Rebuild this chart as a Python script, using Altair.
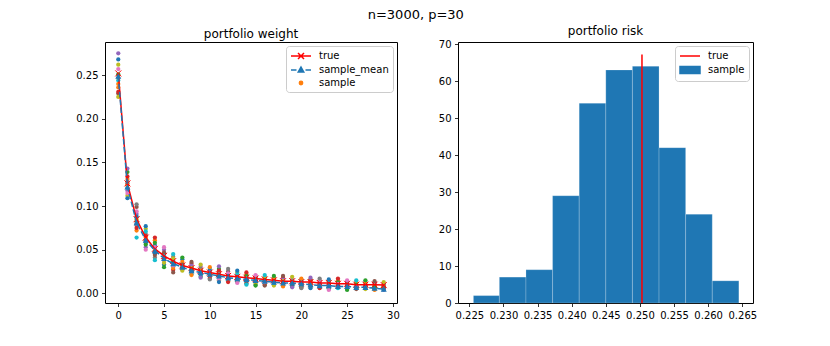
import altair as alt
import pandas as pd

FONT = "DejaVu Sans"

# ---------------- data: left panel ----------------
asset_idx = list(range(30))
true_weight = [0.252, 0.126, 0.085, 0.064, 0.051, 0.043, 0.037, 0.032, 0.029, 0.026,
               0.024, 0.022, 0.020, 0.019, 0.018, 0.017, 0.016, 0.015, 0.014, 0.014,
               0.013, 0.013, 0.012, 0.012, 0.011, 0.011, 0.010, 0.010, 0.010, 0.0095]
mean_weight = [0.249, 0.122, 0.081, 0.061, 0.049, 0.040, 0.034, 0.030, 0.026, 0.024,
               0.022, 0.020, 0.018, 0.017, 0.016, 0.015, 0.014, 0.013, 0.012, 0.012,
               0.011, 0.010, 0.009, 0.009, 0.008, 0.008, 0.007, 0.007, 0.006, 0.005]
sample_weights = [
    [0.236, 0.262, 0.229, 0.251, 0.244, 0.257, 0.231, 0.268, 0.247, 0.275, 0.240, 0.225],
    [0.118, 0.131, 0.112, 0.126, 0.139, 0.121, 0.115, 0.134, 0.109, 0.128, 0.143, 0.124],
    [0.078, 0.091, 0.072, 0.085, 0.099, 0.082, 0.064, 0.094, 0.075, 0.088, 0.102, 0.080],
    [0.058, 0.068, 0.053, 0.064, 0.074, 0.061, 0.056, 0.071, 0.050, 0.066, 0.077, 0.060],
    [0.046, 0.055, 0.041, 0.052, 0.061, 0.049, 0.044, 0.058, 0.038, 0.053, 0.064, 0.047],
    [0.037, 0.045, 0.033, 0.042, 0.050, 0.039, 0.035, 0.047, 0.030, 0.043, 0.053, 0.040],
    [0.031, 0.038, 0.027, 0.035, 0.042, 0.033, 0.029, 0.040, 0.024, 0.036, 0.045, 0.032],
    [0.029, 0.034, 0.027, 0.032, 0.039, 0.030, 0.028, 0.036, 0.026, 0.033, 0.041, 0.031],
    [0.025, 0.030, 0.022, 0.028, 0.034, 0.026, 0.024, 0.032, 0.021, 0.029, 0.036, 0.027],
    [0.022, 0.027, 0.019, 0.025, 0.031, 0.023, 0.021, 0.029, 0.018, 0.026, 0.033, 0.024],
    [0.020, 0.025, 0.017, 0.023, 0.028, 0.021, 0.019, 0.026, 0.016, 0.024, 0.030, 0.022],
    [0.018, 0.024, 0.015, 0.021, 0.028, 0.019, 0.016, 0.026, 0.013, 0.022, 0.031, 0.020],
    [0.016, 0.021, 0.014, 0.019, 0.025, 0.017, 0.015, 0.023, 0.013, 0.020, 0.028, 0.018],
    [0.015, 0.020, 0.013, 0.018, 0.024, 0.016, 0.014, 0.022, 0.012, 0.019, 0.026, 0.017],
    [0.014, 0.018, 0.011, 0.016, 0.022, 0.015, 0.012, 0.020, 0.010, 0.017, 0.024, 0.015],
    [0.013, 0.017, 0.010, 0.015, 0.020, 0.014, 0.011, 0.018, 0.009, 0.016, 0.021, 0.014],
    [0.012, 0.016, 0.010, 0.014, 0.019, 0.013, 0.011, 0.018, 0.009, 0.015, 0.021, 0.013],
    [0.012, 0.015, 0.010, 0.014, 0.018, 0.013, 0.011, 0.017, 0.009, 0.014, 0.020, 0.012],
    [0.011, 0.015, 0.009, 0.013, 0.018, 0.012, 0.010, 0.016, 0.008, 0.014, 0.020, 0.012],
    [0.010, 0.014, 0.008, 0.012, 0.017, 0.011, 0.009, 0.015, 0.007, 0.013, 0.019, 0.011],
    [0.009, 0.013, 0.007, 0.011, 0.016, 0.010, 0.008, 0.014, 0.006, 0.012, 0.017, 0.010],
    [0.009, 0.013, 0.007, 0.011, 0.016, 0.010, 0.008, 0.015, 0.006, 0.012, 0.018, 0.010],
    [0.008, 0.012, 0.007, 0.010, 0.015, 0.009, 0.007, 0.014, 0.006, 0.011, 0.017, 0.009],
    [0.007, 0.011, 0.005, 0.009, 0.014, 0.008, 0.006, 0.013, 0.004, 0.010, 0.016, 0.009],
    [0.008, 0.012, 0.007, 0.010, 0.015, 0.009, 0.007, 0.013, 0.006, 0.011, 0.017, 0.009],
    [0.007, 0.010, 0.005, 0.009, 0.013, 0.008, 0.006, 0.012, 0.004, 0.010, 0.015, 0.008],
    [0.007, 0.010, 0.006, 0.009, 0.013, 0.008, 0.006, 0.012, 0.005, 0.010, 0.015, 0.008],
    [0.007, 0.010, 0.006, 0.009, 0.013, 0.008, 0.006, 0.012, 0.005, 0.009, 0.015, 0.008],
    [0.006, 0.009, 0.005, 0.008, 0.012, 0.007, 0.005, 0.011, 0.004, 0.009, 0.014, 0.007],
    [0.006, 0.009, 0.005, 0.008, 0.011, 0.007, 0.005, 0.010, 0.004, 0.008, 0.013, 0.007],
]
tab10 = ["#1f77b4", "#ff7f0e", "#2ca02c", "#d62728", "#9467bd",
         "#8c564b", "#e377c2", "#7f7f7f", "#bcbd22", "#17becf"]
left_x_ticks = [0, 5, 10, 15, 20, 25, 30]
left_y_ticks = [0.0, 0.05, 0.10, 0.15, 0.20, 0.25]
left_legend = ["true", "sample_mean", "sample"]

# ---------------- data: right panel ----------------
bin_edges = [0.2256, 0.2294, 0.2333, 0.2372, 0.2411, 0.2450,
             0.2489, 0.2528, 0.2567, 0.2606, 0.2645]
bin_counts = [2, 7, 9, 29, 54, 63, 64, 42, 24, 6]
true_risk = [0.2503]
true_risk_top = [67.2]
right_x_ticks = [0.225, 0.230, 0.235, 0.240, 0.245, 0.250, 0.255, 0.260, 0.265]
right_y_ticks = [0, 10, 20, 30, 40, 50, 60, 70]
right_legend = ["true", "sample"]

# ---------------- tables ----------------
rows = []
for j in range(len(sample_weights[0])):
    for i in asset_idx:
        rows.append({"x": i, "y": sample_weights[i][j],
                     "c": tab10[(7 * j + 3 * i + 1) % 10]})
df_samples = pd.DataFrame(rows)
df_true = pd.DataFrame({"x": asset_idx, "y": true_weight})
df_mean = pd.DataFrame({"x": asset_idx, "y": mean_weight})
df_legL = pd.DataFrame({"lgL": left_legend, "x": [0] * 3, "y": [0] * 3})

df_hist = pd.DataFrame({"b0": bin_edges[:-1], "b1": bin_edges[1:],
                        "n": bin_counts, "z": [0] * len(bin_counts)})
df_vline = pd.DataFrame({"x": true_risk, "y0": [0], "y1": true_risk_top})
df_legR = pd.DataFrame({"lgR": right_legend, "x": [0.24] * 2, "y": [0] * 2})

# ---------------- left panel ----------------
xsL = alt.Scale(domain=[-1.45, 30.45], nice=False, zero=False)
ysL = alt.Scale(domain=[-0.011, 0.288], nice=False, zero=False)
xL = alt.X("x:Q", scale=xsL, axis=alt.Axis(values=left_x_ticks, title=None))
yL = alt.Y("y:Q", scale=ysL,
           axis=alt.Axis(values=left_y_ticks, format=".2f", title=None,
                         minExtent=30, maxExtent=30))

pts = alt.Chart(df_samples).mark_circle(size=18, opacity=1).encode(
    x=xL, y=yL, color=alt.Color("c:N", scale=None))
tline = alt.Chart(df_true).mark_line(color="#ff0000", strokeWidth=1.5).encode(x=xL, y=yL)
XPATH = "M-1,-1L1,1M-1,1L1,-1"
tpts = alt.Chart(df_true).mark_point(shape=XPATH, filled=False, color="#ff0000",
                                     size=36, strokeWidth=1, opacity=1).encode(x=xL, y=yL)
mline = alt.Chart(df_mean).mark_line(color="#1f77b4", strokeWidth=1.5,
                                     strokeDash=[5.5, 2.4]).encode(x=xL, y=yL)
mpts = alt.Chart(df_mean).mark_point(shape="triangle-up", filled=True, color="#1f77b4",
                                     size=36, opacity=1).encode(x=xL, y=yL)

legL = alt.Legend(title=None, orient="top-right")
pathsL = [
    "M-2,0H2M-0.6,-0.6L0.6,0.6M-0.6,0.6L0.6,-0.6",
    "M-2,0H-0.9M-0.4,0H0.4M0.9,0H2M0,-0.6L0.55,0.4L-0.55,0.4Z",
    "M-0.33,0A0.33,0.33 0 1,0 0.33,0A0.33,0.33 0 1,0 -0.33,0Z",
]
colL = ["#ff0000", "#1f77b4", "#ff7f0e"]
legLayerL = alt.Chart(df_legL).mark_point(filled=True, opacity=1).encode(
    x=xL, y=yL,
    shape=alt.Shape("lgL:N", scale=alt.Scale(domain=left_legend, range=pathsL), legend=legL),
    fill=alt.Fill("lgL:N", scale=alt.Scale(domain=left_legend, range=colL), legend=legL),
    stroke=alt.Stroke("lgL:N", scale=alt.Scale(domain=left_legend, range=colL), legend=legL),
).transform_filter("false")

left = alt.layer(pts, tline, tpts, mline, mpts, legLayerL).properties(
    width=292, height=261,
    title=alt.TitleParams("portfolio weight", fontSize=12, font=FONT,
                          fontWeight="normal", offset=1))

# ---------------- right panel ----------------
xsR = alt.Scale(domain=[0.22334, 0.26657], nice=False, zero=False)
ysR = alt.Scale(domain=[0, 70.56], nice=False, zero=False)
xax = alt.Axis(values=right_x_ticks, format=".3f", title=None)
yax = alt.Axis(values=right_y_ticks, title=None, minExtent=20, maxExtent=20)

bars = alt.Chart(df_hist).mark_rect(color="#1f77b4", stroke="white",
                                    strokeOpacity=0.2, strokeWidth=1).encode(
    x=alt.X("b0:Q", scale=xsR, axis=xax), x2="b1:Q",
    y=alt.Y("n:Q", scale=ysR, axis=yax), y2="z:Q")
vline = alt.Chart(df_vline).mark_rule(color="#ff0000", strokeWidth=1.5).encode(
    x=alt.X("x:Q", scale=xsR, axis=xax),
    y=alt.Y("y0:Q", scale=ysR, axis=yax), y2="y1:Q")

legR = alt.Legend(title=None, orient="top-right")
pathsR = ["M-2,0H2", "M-2,-0.7H2V0.7H-2Z"]
colR = ["#ff0000", "#1f77b4"]
legLayerR = alt.Chart(df_legR).mark_point(filled=True, opacity=1).encode(
    x=alt.X("x:Q", scale=xsR, axis=xax),
    y=alt.Y("y:Q", scale=ysR, axis=yax),
    shape=alt.Shape("lgR:N", scale=alt.Scale(domain=right_legend, range=pathsR), legend=legR),
    fill=alt.Fill("lgR:N", scale=alt.Scale(domain=right_legend, range=colR), legend=legR),
    stroke=alt.Stroke("lgR:N", scale=alt.Scale(domain=right_legend, range=colR), legend=legR),
).transform_filter("false")

right = alt.layer(bars, vline, legLayerR).properties(
    width=295, height=261,
    title=alt.TitleParams("portfolio risk", fontSize=12, font=FONT,
                          fontWeight="normal", offset=1))

chart = alt.hconcat(left, right, spacing=37).resolve_scale(
    shape="independent", fill="independent", stroke="independent",
    x="independent", y="independent"
).resolve_legend(shape="independent", fill="independent", stroke="independent"
).properties(
    title=alt.TitleParams("n=3000, p=30", fontSize=13, font=FONT,
                          fontWeight="normal", anchor="middle", offset=3),
    padding={"left": 66, "top": 0, "right": 5, "bottom": 5},
).configure_view(stroke="black", strokeWidth=1
).configure_axis(
    labelFont=FONT, labelFontSize=10, labelColor="black",
    tickColor="black", tickSize=3.5, tickWidth=0.8, labelPadding=3.5,
    domain=False, grid=False, labelFlush=False
).configure_legend(
    labelFont=FONT, labelFontSize=10, labelColor="black",
    symbolSize=100, symbolStrokeWidth=1.5, fillColor="rgba(255,255,255,0.8)",
    strokeColor="#cccccc", cornerRadius=3, padding=4, offset=4,
    rowPadding=2, labelOffset=12, symbolOffset=5
).configure_title(font=FONT, color="black")

chart.save("out.html", embed_options={"renderer": "svg", "actions": False})
